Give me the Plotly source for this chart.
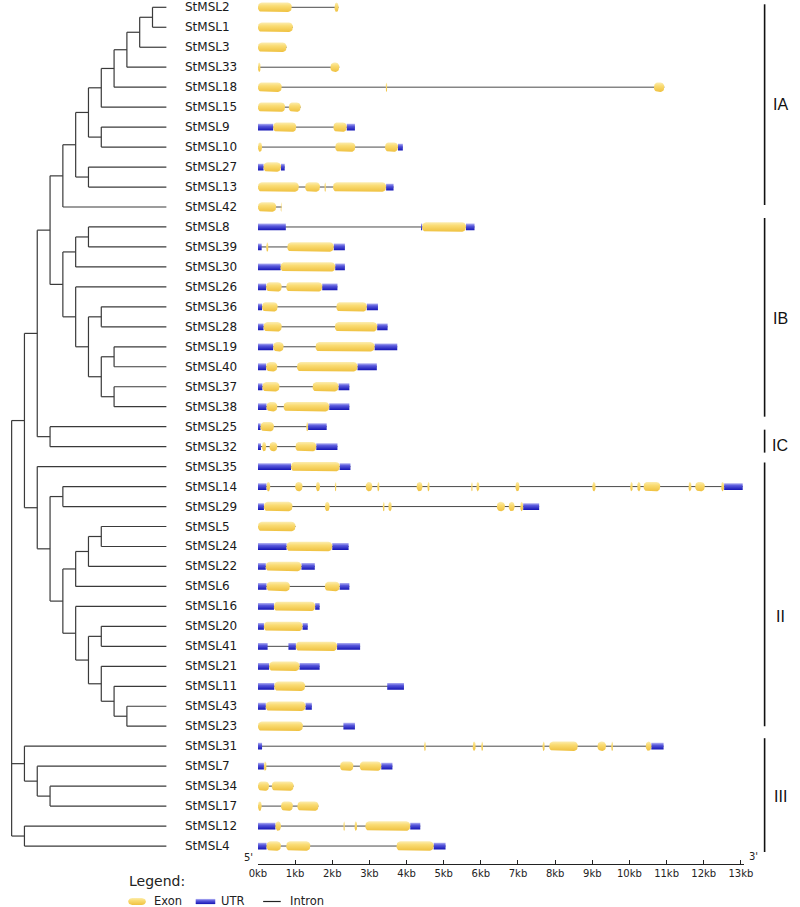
import math
import plotly.graph_objects as go

W, H = 800, 907

# ---------------- data ----------------
CLADE_IA = "((((((((StMSL2,StMSL1),StMSL3),StMSL33),StMSL18),StMSL15),(StMSL9,StMSL10)),(StMSL27,StMSL13)),StMSL42)"
CLADE_IB = "(((StMSL8,StMSL39),StMSL30),(StMSL26,((StMSL36,StMSL28),((StMSL19,StMSL40),(StMSL37,StMSL38)))))"
CLADE_IC = "(StMSL25,StMSL32)"
CLADE_II = "(StMSL35,((StMSL14,StMSL29),((((StMSL5,StMSL24),StMSL22),StMSL6),(StMSL16,((StMSL20,StMSL41),(StMSL21,(StMSL11,(StMSL43,StMSL23))))))))"
CLADE_IIIA = "(StMSL31,(StMSL7,(StMSL34,StMSL17)))"
CLADE_IIIB = "(StMSL12,StMSL4)"
TREE = "(((" + CLADE_IA + "," + CLADE_IB + ")," + CLADE_IC + ")," + CLADE_II + ")"
TREE = "(" + TREE + "," + CLADE_IIIA + "," + CLADE_IIIB + ")"

# exons (kb start, kb end)
EXONS = {
    "StMSL2": [(0, 0.91), (2.06, 2.17)],
    "StMSL1": [(0, 0.94)],
    "StMSL3": [(0, 0.77)],
    "StMSL33": [(0, 0.07), (1.95, 2.19)],
    "StMSL18": [(0, 0.64), (3.44, 3.48), (10.66, 10.94)],
    "StMSL15": [(0, 0.73), (0.83, 1.15)],
    "StMSL9": [(0.41, 1.03), (2.03, 2.39)],
    "StMSL10": [(0, 0.11), (2.08, 2.62), (3.42, 3.77)],
    "StMSL27": [(0.15, 0.62)],
    "StMSL13": [(0, 1.1), (1.27, 1.67), (1.79, 1.83), (2.02, 3.45)],
    "StMSL42": [(0, 0.49), (0.61, 0.64)],
    "StMSL8": [(4.42, 5.60)],
    "StMSL39": [(0.22, 0.28), (0.79, 2.04)],
    "StMSL30": [(0.61, 2.08)],
    "StMSL26": [(0.22, 0.64), (0.76, 1.73)],
    "StMSL36": [(0.11, 0.53), (2.11, 2.93)],
    "StMSL28": [(0.15, 0.64), (2.07, 3.21)],
    "StMSL19": [(0.41, 0.69), (1.55, 3.14)],
    "StMSL40": [(0.22, 0.52), (1.05, 2.68)],
    "StMSL37": [(0.12, 0.58), (1.47, 2.17)],
    "StMSL38": [(0.23, 0.52), (0.69, 1.92)],
    "StMSL25": [(0.07, 0.43), (1.30, 1.35)],
    "StMSL32": [(0.11, 0.22), (0.31, 0.52), (1.01, 1.57)],
    "StMSL35": [(0.89, 2.2)],
    "StMSL14": [(0.23, 0.33), (1.0, 1.2), (1.56, 1.67), (2.07, 2.11), (2.9, 3.08), (3.21, 3.27),
                (4.27, 4.43), (4.56, 4.62), (5.74, 5.78), (5.88, 5.96), (6.93, 7.04), (9.0, 9.09),
                (10.02, 10.09), (10.21, 10.3), (10.38, 10.83), (11.59, 11.67), (11.77, 12.03), (12.47, 12.55)],
    "StMSL29": [(0.16, 0.93), (1.8, 1.93), (3.36, 3.41), (3.51, 3.6), (6.43, 6.65), (6.75, 6.91), (7.06, 7.14)],
    "StMSL5": [(0, 1.01)],
    "StMSL24": [(0.77, 2.0)],
    "StMSL22": [(0.21, 1.17)],
    "StMSL6": [(0.23, 0.86), (1.8, 2.2)],
    "StMSL16": [(0.43, 1.54)],
    "StMSL20": [(0.16, 1.2)],
    "StMSL41": [(1.02, 2.13)],
    "StMSL21": [(0.3, 1.12)],
    "StMSL11": [(0.44, 1.27)],
    "StMSL43": [(0.21, 1.28)],
    "StMSL23": [(0, 1.21)],
    "StMSL31": [(4.47, 4.52), (5.78, 5.86), (6.01, 6.06), (7.66, 7.72), (7.84, 8.61), (9.14, 9.37),
                (9.51, 9.56), (10.44, 10.59)],
    "StMSL7": [(0.16, 0.23), (2.21, 2.57), (2.74, 3.32)],
    "StMSL34": [(0, 0.3), (0.37, 0.96)],
    "StMSL17": [(0, 0.1), (0.62, 0.94), (1.06, 1.63)],
    "StMSL12": [(0.47, 0.62), (2.3, 2.34), (2.6, 2.67), (2.89, 4.1)],
    "StMSL4": [(0.23, 0.62), (0.76, 1.41), (3.73, 4.73)],
}

# UTRs (kb start, kb end)
UTRS = {
    "StMSL9": [(0, 0.41), (2.39, 2.61)],
    "StMSL10": [(3.77, 3.90)],
    "StMSL27": [(0, 0.15), (0.62, 0.72)],
    "StMSL13": [(3.45, 3.65)],
    "StMSL8": [(0, 0.75), (4.39, 4.42), (5.60, 5.83)],
    "StMSL39": [(0, 0.1), (2.04, 2.34)],
    "StMSL30": [(0, 0.61), (2.08, 2.34)],
    "StMSL26": [(0, 0.22), (1.73, 2.14)],
    "StMSL36": [(0, 0.11), (2.93, 3.23)],
    "StMSL28": [(0, 0.15), (3.21, 3.49)],
    "StMSL19": [(0, 0.41), (3.14, 3.75)],
    "StMSL40": [(0, 0.22), (2.68, 3.2)],
    "StMSL37": [(0, 0.12), (2.17, 2.46)],
    "StMSL38": [(0, 0.23), (1.92, 2.46)],
    "StMSL25": [(0, 0.07), (1.35, 1.85)],
    "StMSL32": [(0, 0.08), (1.57, 2.14)],
    "StMSL35": [(0, 0.89), (2.2, 2.49)],
    "StMSL14": [(0, 0.23), (12.55, 13.05)],
    "StMSL29": [(0, 0.16), (7.14, 7.57)],
    "StMSL24": [(0, 0.77), (2.0, 2.44)],
    "StMSL22": [(0, 0.21), (1.17, 1.53)],
    "StMSL6": [(0, 0.23), (2.2, 2.46)],
    "StMSL16": [(0, 0.43), (1.54, 1.66)],
    "StMSL20": [(0, 0.16), (1.2, 1.34)],
    "StMSL41": [(0, 0.26), (0.82, 1.02), (2.13, 2.75)],
    "StMSL21": [(0, 0.3), (1.12, 1.66)],
    "StMSL11": [(0, 0.44), (3.48, 3.93)],
    "StMSL43": [(0, 0.21), (1.28, 1.45)],
    "StMSL23": [(2.3, 2.61)],
    "StMSL31": [(0, 0.11), (10.59, 10.92)],
    "StMSL7": [(0, 0.16), (3.32, 3.62)],
    "StMSL12": [(0, 0.47), (4.1, 4.37)],
    "StMSL4": [(0, 0.23), (4.73, 5.05)],
}

GROUP_NAMES = ["IA", "IB", "IC", "II", "III"]
GROUP_FIRST = ["StMSL2", "StMSL8", "StMSL25", "StMSL35", "StMSL31"]
GROUP_LAST = ["StMSL42", "StMSL38", "StMSL32", "StMSL23", "StMSL4"]
GROUP_PAD_TOP = [0.15, 0.45, -0.15, 0.2, 0.4]
GROUP_PAD_BOTTOM = [-0.1, 0.5, 0.3, 0.0, 0.3]
GROUP_LABEL_SHIFT = [0.0, 0.05, 0.2, 1.1, 0.05]

KB_TICKS = list(range(14))
KB_LABELS = [f"{k}kb" for k in KB_TICKS]
LEGEND_LABELS = ["Exon", "UTR", "Intron"]

# ---------------- layout constants (px) ----------------
ROW_PX = 19.97
ROW0_PX = 7.3
TREE_X0 = 2.7
DEPTH_STEP = 13.1
TIP_X = 161
LABEL_X = 178.5
KB0_PX = 254.7
PX_PER_KB = 38.0
KB_MAX = 13.09
AXIS_Y_PX = 864
GROUP_LINE_X = 773
GROUP_LABEL_X = 789

EXON_HH = 4.7 / ROW_PX
UTR_HH = 3.4 / ROW_PX
EXON_RX = 4.0 / PX_PER_KB
EXON_RY = 4.0 / ROW_PX

EXON_SCALE = [[0, "#FCEDB0"], [0.35, "#FADC74"], [1, "#EFC140"]]
UTR_SCALE = [[0, "#B4B4F4"], [0.35, "#5A5ADC"], [1, "#1414B4"]]
TREE_COLOR = "#3a3a3a"
INTRON_COLOR = "#4a4a4a"
FONT = "DejaVu Sans"


def px_to_row(ypx):
    return (ypx - ROW0_PX) / ROW_PX


# ---------------- parse tree ----------------
def parse(s):
    pos = 0

    def node():
        nonlocal pos
        if s[pos] == "(":
            pos += 1
            kids = [node()]
            while s[pos] == ",":
                pos += 1
                kids.append(node())
            pos += 1  # ')'
            return {"children": kids}
        start = pos
        while pos < len(s) and s[pos] not in ",();":
            pos += 1
        return {"name": s[start:pos]}

    return node()


root = parse(TREE)
LEAVES = []


def layout(n, depth):
    n["depth"] = depth
    if "name" in n:
        n["row"] = len(LEAVES)
        LEAVES.append(n["name"])
    else:
        for c in n["children"]:
            layout(c, depth + 1)
        n["row"] = (n["children"][0]["row"] + n["children"][-1]["row"]) / 2


layout(root, 0)
ROW = {g: i for i, g in enumerate(LEAVES)}


def node_x(n):
    return TIP_X if "name" in n else TREE_X0 + DEPTH_STEP * n["depth"]


tx, ty = [], []


def segs(n):
    if "name" in n:
        return
    x = node_x(n)
    rows = [c["row"] for c in n["children"]]
    tx.extend([x, x, None])
    ty.extend([min(rows), max(rows), None])
    for c in n["children"]:
        tx.extend([x, node_x(c), None])
        ty.extend([c["row"], c["row"], None])
        segs(c)


segs(root)

fig = go.Figure()
fig.add_trace(go.Scatter(x=tx, y=ty, mode="lines", xaxis="x2", yaxis="y",
                         line=dict(color=TREE_COLOR, width=1.2), hoverinfo="skip", showlegend=False))


# ---------------- gene structures ----------------
def rounded_box(x0, x1, yc, hh, rx, ry):
    rx = min(rx, (x1 - x0) / 2)
    ry = min(ry, hh)
    corners = [(x1 - rx, yc - hh + ry, -90, 0), (x1 - rx, yc + hh - ry, 0, 90),
               (x0 + rx, yc + hh - ry, 90, 180), (x0 + rx, yc - hh + ry, 180, 270)]
    xs, ys = [], []
    for cx, cy, a0, a1 in corners:
        for k in range(7):
            a = math.radians(a0 + (a1 - a0) * k / 6)
            xs.append(cx + rx * math.cos(a))
            ys.append(cy + ry * math.sin(a))
    xs.append(xs[0])
    ys.append(ys[0])
    return xs, ys


def rect(x0, x1, yc, hh):
    return [x0, x1, x1, x0, x0], [yc - hh, yc - hh, yc + hh, yc + hh, yc - hh]


# introns
ix, iy = [], []
for g in LEAVES:
    feats = EXONS.get(g, []) + UTRS.get(g, [])
    s = min(f[0] for f in feats)
    e = max(f[1] for f in feats)
    ix.extend([s, e, None])
    iy.extend([ROW[g], ROW[g], None])
fig.add_trace(go.Scatter(x=ix, y=iy, mode="lines", line=dict(color=INTRON_COLOR, width=1),
                         hoverinfo="skip", showlegend=False))

for g in LEAVES:
    r = ROW[g]
    if g in UTRS:
        ux, uy = [], []
        for s, e in UTRS[g]:
            a, b = rect(s, e, r, UTR_HH)
            ux += a + [None]
            uy += b + [None]
        fig.add_trace(go.Scatter(x=ux, y=uy, mode="lines", fill="toself", line=dict(width=0),
                                 fillgradient=dict(type="vertical", colorscale=UTR_SCALE,
                                                   start=r - UTR_HH, stop=r + UTR_HH),
                                 hoverinfo="skip", showlegend=False))
    if g in EXONS:
        ex, ey = [], []
        for s, e in EXONS[g]:
            a, b = rounded_box(s, e, r, EXON_HH, EXON_RX, EXON_RY)
            ex += a + [None]
            ey += b + [None]
        fig.add_trace(go.Scatter(x=ex, y=ey, mode="lines", fill="toself", line=dict(width=0),
                                 fillgradient=dict(type="vertical", colorscale=EXON_SCALE,
                                                   start=r - EXON_HH, stop=r + EXON_HH),
                                 hoverinfo="skip", showlegend=False))

annotations = []
for g in LEAVES:
    annotations.append(dict(x=LABEL_X, y=ROW[g], xref="x2", yref="y", text=g, showarrow=False,
                            xanchor="left", yanchor="middle",
                            font=dict(family=FONT, size=12, color="#1a1a1a")))

# group bars
gx, gy = [], []
for name, f, l, pt, pb, sh in zip(GROUP_NAMES, GROUP_FIRST, GROUP_LAST, GROUP_PAD_TOP,
                                  GROUP_PAD_BOTTOM, GROUP_LABEL_SHIFT):
    y0 = ROW[f] - pt
    y1 = ROW[l] + pb
    gx += [GROUP_LINE_X, GROUP_LINE_X, None]
    gy += [y0, y1, None]
    annotations.append(dict(x=GROUP_LABEL_X, y=(y0 + y1) / 2 + sh, xref="x2", yref="y", text=name,
                            showarrow=False, xanchor="center", yanchor="middle",
                            font=dict(family="Liberation Sans", size=16, color="#111")))
fig.add_trace(go.Scatter(x=gx, y=gy, mode="lines", xaxis="x2", yaxis="y",
                         line=dict(color="#111", width=1.6), hoverinfo="skip", showlegend=False))

# 5' / 3'
annotations.append(dict(x=245, y=px_to_row(857), xref="x2", yref="y", text="5'", showarrow=False,
                        xanchor="center", yanchor="middle", font=dict(family=FONT, size=10, color="#222")))
annotations.append(dict(x=762, y=px_to_row(856), xref="x2", yref="y", text="3'", showarrow=False,
                        xanchor="center", yanchor="middle", font=dict(family=FONT, size=10, color="#222")))

# ---------------- legend ----------------
LEG_Y = px_to_row(901.5)
LEG_TEXT_Y = px_to_row(900.5)
annotations.append(dict(x=121, y=px_to_row(881), xref="x2", yref="y", text="Legend:", showarrow=False,
                        xanchor="left", yanchor="middle", font=dict(family=FONT, size=14, color="#222")))
sx, sy = rounded_box(122, 140, LEG_Y, 3.6 / ROW_PX, 4, 3.6 / ROW_PX)
fig.add_trace(go.Scatter(x=sx, y=sy, xaxis="x2", yaxis="y", mode="lines", fill="toself", line=dict(width=0),
                         fillgradient=dict(type="vertical", colorscale=EXON_SCALE,
                                           start=LEG_Y - 3.6 / ROW_PX, stop=LEG_Y + 3.6 / ROW_PX),
                         hoverinfo="skip", showlegend=False))
ux, uy = rect(191, 211, LEG_Y, 2.6 / ROW_PX)
fig.add_trace(go.Scatter(x=ux, y=uy, xaxis="x2", yaxis="y", mode="lines", fill="toself", line=dict(width=0),
                         fillgradient=dict(type="vertical", colorscale=UTR_SCALE,
                                           start=LEG_Y - 2.6 / ROW_PX, stop=LEG_Y + 2.6 / ROW_PX),
                         hoverinfo="skip", showlegend=False))
fig.add_trace(go.Scatter(x=[260, 278], y=[LEG_Y, LEG_Y], xaxis="x2", yaxis="y", mode="lines",
                         line=dict(color="#222", width=1.2), hoverinfo="skip", showlegend=False))
for lx, lab in zip([146, 215, 285], LEGEND_LABELS):
    annotations.append(dict(x=lx, y=LEG_TEXT_Y, xref="x2", yref="y", text=lab, showarrow=False,
                            xanchor="left", yanchor="middle", font=dict(family=FONT, size=11.5, color="#222")))

y_top = -ROW0_PX / ROW_PX
y_bot = (H - ROW0_PX) / ROW_PX

fig.update_layout(
    width=W, height=H, margin=dict(l=0, r=0, t=0, b=0),
    paper_bgcolor="white", plot_bgcolor="rgba(0,0,0,0)",
    showlegend=False, annotations=annotations,
    xaxis=dict(domain=[KB0_PX / W, (KB0_PX + KB_MAX * PX_PER_KB) / W], range=[0, KB_MAX],
               anchor="free", position=(H - AXIS_Y_PX) / H,
               showline=True, linecolor="#222", linewidth=1.3, ticks="inside", ticklen=4,
               tickwidth=1, tickcolor="#222", tickvals=KB_TICKS, ticktext=KB_LABELS,
               tickfont=dict(family=FONT, size=10, color="#222"), showgrid=False, zeroline=False,
               fixedrange=True),
    xaxis2=dict(domain=[0, 1], range=[0, W], anchor="y", visible=False, fixedrange=True),
    yaxis=dict(domain=[0, 1], range=[y_bot, y_top], visible=False, fixedrange=True),
)

fig.write_html("out.html", config={"displayModeBar": False},
               post_script="document.body.style.margin='0';document.body.style.overflow='hidden';")
